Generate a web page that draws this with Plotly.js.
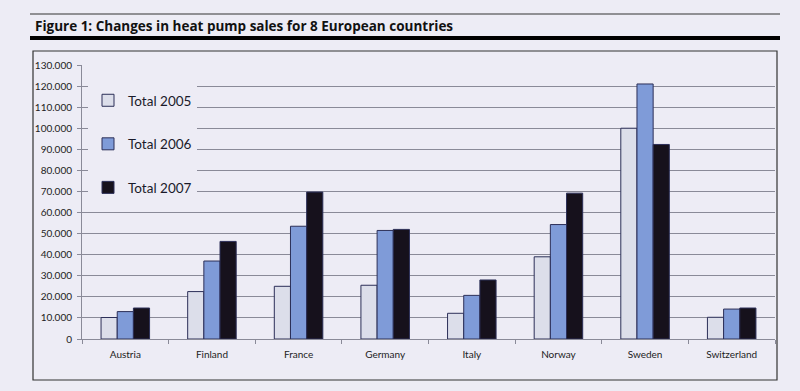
<!DOCTYPE html>
<html>
<head>
<meta charset="utf-8">
<script src="https://cdn.plot.ly/plotly-3.0.1.min.js"></script>
<style>
html,body{margin:0;padding:0;background:#edecf5;}
#chart{width:800px;height:391px;}
</style>
</head>
<body>
<div id="chart"></div>
<script>
const countries = ["Austria","Finland","France","Germany","Italy","Norway","Sweden","Switzerland"];
const total2005 = [10200, 22500, 25000, 25500, 12200, 39000, 100000, 10300];
const total2006 = [13000, 37000, 53500, 51500, 20700, 54300, 121000, 14200];
const total2007 = [14700, 46300, 69700, 52000, 28000, 69200, 92300, 14700];
const seriesNames = ["Total 2005","Total 2006","Total 2007"];
const yTicks = [0,10000,20000,30000,40000,50000,60000,70000,80000,90000,100000,110000,120000,130000];

const bg = "#edecf5";
const colors = ["#dcdeea","#7f9bd8","#16111c"];
const data = [total2005,total2006,total2007].map((vals,i)=>({
  type:"bar",
  name:seriesNames[i],
  x:countries,
  y:vals,
  legendgroup:"g"+i,
  marker:{color:colors[i], line:{color:"#2c2f58", width:1}}
}));

// paper coordinate helpers (plot area: x 82..775, y 65..339)
const px = x => (x-82)/693;
const py = y => (339-y)/274;

const layout = {
  width:800, height:391,
  paper_bgcolor:bg, plot_bgcolor:bg,
  margin:{l:82, r:25, t:65, b:52},
  separators:",.",
  barmode:"group",
  bargap:0.44, bargroupgap:0,
  showlegend:true,
  legend:{
    x:px(88), y:py(85), xanchor:"left", yanchor:"top",
    bgcolor:bg, borderwidth:0,
    tracegroupgap:23,
    traceorder:"grouped",
    font:{family:"Lato, 'Open Sans', sans-serif", size:13.5, color:"#1a1a2a"},
    itemwidth:30
  },
  xaxis:{
    showline:true, linecolor:"#8a8a98", linewidth:1,
    ticks:"outside", tickson:"boundaries", ticklen:4, tickcolor:"#8a8a98",
    ticklabelstandoff:6,
    tickfont:{family:"Lato, 'Open Sans', sans-serif", size:10, color:"#222"},
    showgrid:false
  },
  yaxis:{
    range:[0,130000], tickvals:yTicks, tickformat:",d",
    showline:true, linecolor:"#8a8a98", linewidth:1,
    ticks:"outside", ticklen:4, tickcolor:"#8a8a98",
    ticklabelstandoff:3,
    gridcolor:"#8a8a98", gridwidth:1,
    zeroline:false,
    tickfont:{family:"Lato, 'Open Sans', sans-serif", size:10, color:"#222"}
  },
  shapes:[
    {type:"line", xref:"paper", yref:"paper", x0:px(30), x1:px(780), y0:py(14), y1:py(14), line:{color:"#333", width:1}},
    {type:"line", xref:"paper", yref:"paper", x0:px(30), x1:px(780), y0:py(38), y1:py(38), line:{color:"#000", width:4}},
    {type:"rect", xref:"paper", yref:"paper", x0:px(33), x1:px(777), y0:py(51), y1:py(380), line:{color:"#333", width:1.2}, fillcolor:"rgba(0,0,0,0)", layer:"below"}
  ],
  annotations:[
    {xref:"paper", yref:"paper", x:px(33), y:py(26), xanchor:"left", yanchor:"middle", showarrow:false,
     text:"<b>Figure 1: Changes in heat pump sales for 8 European countries</b>",
     font:{family:"'Open Sans', 'DejaVu Sans', sans-serif", size:13.5, color:"#111"}}
  ]
};

Plotly.newPlot("chart", data, layout, {displayModeBar:false, staticPlot:true});
</script>
</body>
</html>
